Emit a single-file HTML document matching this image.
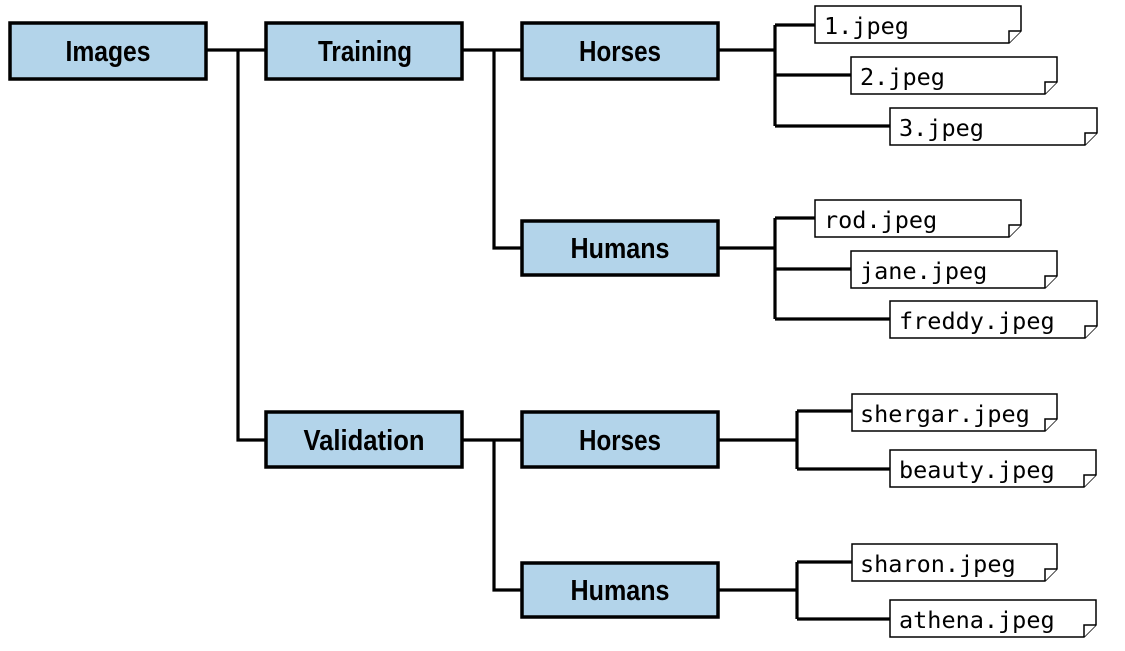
<!DOCTYPE html>
<html><head><meta charset="utf-8"><style>
html,body{margin:0;padding:0;background:#fff;}
svg{display:block}
.b{fill:#b3d4ea;stroke:#000;stroke-width:3.5}
.bt{font-family:"Liberation Sans",sans-serif;font-size:29px;font-weight:bold;text-anchor:middle}
.l{stroke:#000;stroke-width:3.2;fill:none}
.f{fill:#fff;stroke:#000;stroke-width:1.5}
.ft{font-family:"DejaVu Sans Mono","Liberation Mono",monospace;font-size:23.5px}
</style></head><body>
<svg width="1125" height="651" viewBox="0 0 1125 651" xmlns="http://www.w3.org/2000/svg">
<path class="l" d="M206 50H266M238 50V440H266M462 50H522M494 50V248H522M462 440H522M494 440V590H522"/>
<path class="l" d="M718 50H775M775 25V126M775 25H815M775 75H851M775 126H890"/>
<path class="l" d="M718 248H775M775 218V319M775 218H815M775 269H851M775 319H890"/>
<path class="l" d="M718 440H797M797 411V469M797 411H852M797 469H890"/>
<path class="l" d="M718 590H797M797 562V619M797 562H852M797 619H890"/>
<rect class="b" x="10" y="23" width="196" height="56"/><text class="bt" x="108" y="61" textLength="85" lengthAdjust="spacingAndGlyphs">Images</text>
<rect class="b" x="266" y="23" width="196" height="56"/><text class="bt" x="365" y="61" textLength="94" lengthAdjust="spacingAndGlyphs">Training</text>
<rect class="b" x="522" y="23" width="196" height="56"/><text class="bt" x="620" y="61" textLength="82" lengthAdjust="spacingAndGlyphs">Horses</text>
<rect class="b" x="522" y="221" width="196" height="54"/><text class="bt" x="620" y="258" textLength="99" lengthAdjust="spacingAndGlyphs">Humans</text>
<rect class="b" x="266" y="412" width="196" height="55"/><text class="bt" x="364" y="450" textLength="121" lengthAdjust="spacingAndGlyphs">Validation</text>
<rect class="b" x="522" y="412" width="196" height="55"/><text class="bt" x="620" y="450" textLength="82" lengthAdjust="spacingAndGlyphs">Horses</text>
<rect class="b" x="522" y="563" width="196" height="54"/><text class="bt" x="620" y="600" textLength="99" lengthAdjust="spacingAndGlyphs">Humans</text>
<g>
<path class="f" d="M815 6H1021V31L1009 43H815Z"/><path class="f" d="M1009 43V31H1021"/><text class="ft" x="824" y="34">1.jpeg</text>
<path class="f" d="M851 57H1057V82L1045 94H851Z"/><path class="f" d="M1045 94V82H1057"/><text class="ft" x="860" y="85">2.jpeg</text>
<path class="f" d="M890 108H1097V133L1085 145H890Z"/><path class="f" d="M1085 145V133H1097"/><text class="ft" x="899" y="136">3.jpeg</text>
<path class="f" d="M815 200H1021V225L1009 237H815Z"/><path class="f" d="M1009 237V225H1021"/><text class="ft" x="824" y="228">rod.jpeg</text>
<path class="f" d="M851 251H1057V276L1045 288H851Z"/><path class="f" d="M1045 288V276H1057"/><text class="ft" x="860" y="279">jane.jpeg</text>
<path class="f" d="M890 301H1097V326L1085 338H890Z"/><path class="f" d="M1085 338V326H1097"/><text class="ft" x="899" y="329">freddy.jpeg</text>
<path class="f" d="M852 394H1057V419L1045 431H852Z"/><path class="f" d="M1045 431V419H1057"/><text class="ft" x="860" y="422">shergar.jpeg</text>
<path class="f" d="M890 450H1096V475L1084 487H890Z"/><path class="f" d="M1084 487V475H1096"/><text class="ft" x="899" y="478">beauty.jpeg</text>
<path class="f" d="M852 544H1057V569L1045 581H852Z"/><path class="f" d="M1045 581V569H1057"/><text class="ft" x="860" y="572">sharon.jpeg</text>
<path class="f" d="M890 600H1096V625L1084 637H890Z"/><path class="f" d="M1084 637V625H1096"/><text class="ft" x="899" y="628">athena.jpeg</text>
</g>
</svg>
</body></html>
